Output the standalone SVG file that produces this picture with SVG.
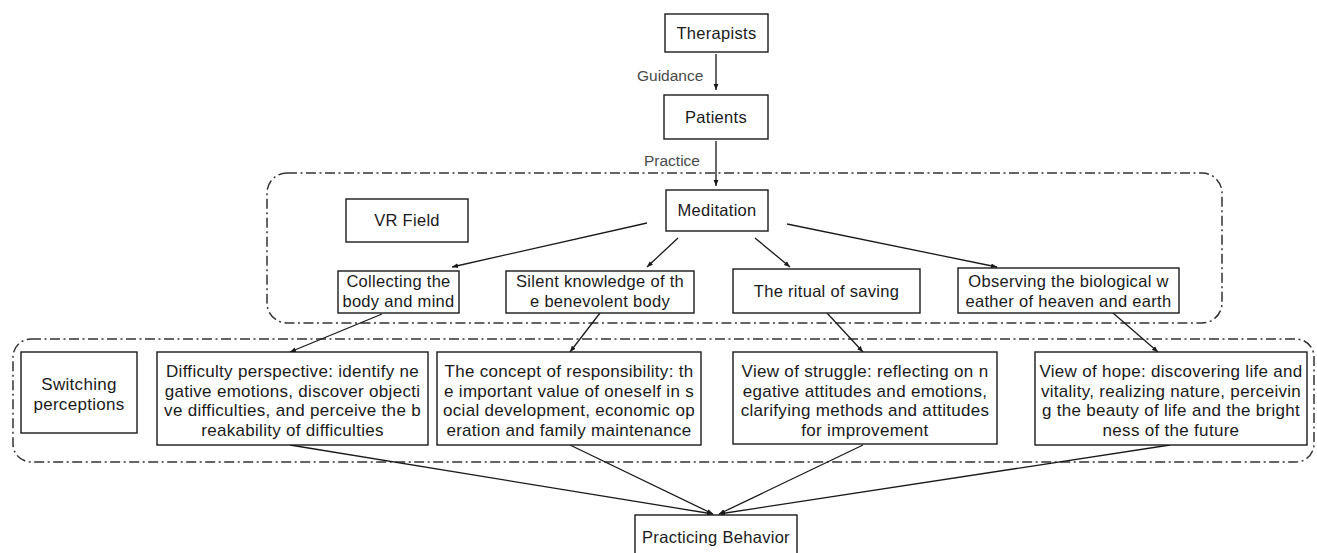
<svg xmlns="http://www.w3.org/2000/svg" width="1317" height="553" viewBox="0 0 1317 553">
<style>
.box{fill:#fff;stroke:#1a1a1a;stroke-width:1.4}
.grp{fill:none;stroke:#333;stroke-width:1.5;stroke-dasharray:10 3.5 2 3.5}
.t{font-family:"Liberation Sans",Arial,sans-serif;font-size:16.5px;letter-spacing:0.3px;fill:#1a1a1a;text-anchor:middle}
.m{font-size:17px}
.lbl{font-family:"Liberation Sans",Arial,sans-serif;font-size:15.5px;fill:#4a4a4a}
.c{stroke:#1a1a1a;stroke-width:1.3;fill:none;marker-end:url(#ah)}
</style>
<defs>
<marker id="ah" viewBox="0 0 10 10" refX="10" refY="5" markerWidth="6" markerHeight="6" orient="auto" markerUnits="userSpaceOnUse">
<path d="M0,1 L10,5 L0,9 z" fill="#1a1a1a"/>
</marker>
</defs>
<rect width="1317" height="553" fill="#fff"/>
<g id="groups">
<rect class="grp" x="267" y="173" width="955" height="150" rx="20"/>
<rect class="grp" x="13" y="339" width="1301" height="123" rx="18"/>
</g>
<g id="connectors">
<line class="c" x1="716" y1="54" x2="716" y2="90"/>
<line class="c" x1="716" y1="141" x2="716" y2="186"/>
<line class="c" x1="647" y1="223" x2="452" y2="267"/>
<line class="c" x1="678" y1="238" x2="647" y2="267"/>
<line class="c" x1="755" y1="238" x2="790" y2="267"/>
<line class="c" x1="787" y1="224" x2="997" y2="267"/>
<line class="c" x1="382" y1="314" x2="290" y2="352"/>
<line class="c" x1="600" y1="313" x2="570" y2="352"/>
<line class="c" x1="827" y1="313" x2="863" y2="352"/>
<line class="c" x1="1113" y1="313" x2="1158" y2="352"/>
<line class="c" x1="290" y1="445" x2="713" y2="514"/>
<line class="c" x1="570" y1="445" x2="713" y2="514"/>
<line class="c" x1="863" y1="445" x2="719" y2="514"/>
<line class="c" x1="1170" y1="445" x2="719" y2="514"/>
<text class="lbl" x="637" y="81">Guidance</text>
<text class="lbl" x="644" y="166">Practice</text>
</g>
<g id="therapists"><rect class="box" x="665" y="14" width="103" height="38"/><text class="t" x="716.5" y="39">Therapists</text></g>
<g id="patients"><rect class="box" x="664" y="95" width="104" height="44"/><text class="t" x="716" y="123">Patients</text></g>
<g id="meditation"><rect class="box" x="666" y="190" width="102" height="41"/><text class="t" x="717" y="216">Meditation</text></g>
<g id="vrfield"><rect class="box" x="346" y="199" width="122" height="43"/><text class="t" x="407" y="226">VR Field</text></g>
<g id="collecting"><rect class="box" x="338" y="271" width="121" height="42"/><text class="t" x="398.5" y="287">Collecting the</text><text class="t" x="398.5" y="307">body and mind</text></g>
<g id="silent"><rect class="box" x="506" y="271" width="188" height="42"/><text class="t" x="600" y="287">Silent knowledge of th</text><text class="t" x="600" y="307">e benevolent body</text></g>
<g id="ritual"><rect class="box" x="733" y="269" width="187" height="44"/><text class="t" x="826.5" y="297">The ritual of saving</text></g>
<g id="observing"><rect class="box" x="958" y="268" width="221" height="45"/><text class="t" x="1068.5" y="287">Observing the biological w</text><text class="t" x="1068.5" y="307">eather of heaven and earth</text></g>
<g id="switching"><rect class="box" x="21" y="352" width="116" height="81"/><text class="t m" x="79" y="390">Switching</text><text class="t m" x="79" y="409.5">perceptions</text></g>
<g id="difficulty"><rect class="box" x="157" y="352" width="271" height="93"/>
<text class="t m" x="292.5" y="377">Difficulty perspective: identify ne</text>
<text class="t m" x="292.5" y="396.5">gative emotions, discover objecti</text>
<text class="t m" x="292.5" y="416">ve difficulties, and perceive the b</text>
<text class="t m" x="292.5" y="435.5">reakability of difficulties</text></g>
<g id="responsibility"><rect class="box" x="437" y="352" width="264" height="93"/>
<text class="t m" x="569" y="377">The concept of responsibility: th</text>
<text class="t m" x="569" y="396.5">e important value of oneself in s</text>
<text class="t m" x="569" y="416">ocial development, economic op</text>
<text class="t m" x="569" y="435.5">eration and family maintenance</text></g>
<g id="struggle"><rect class="box" x="733" y="352" width="264" height="92"/>
<text class="t m" x="865" y="377">View of struggle: reflecting on n</text>
<text class="t m" x="865" y="396.5">egative attitudes and emotions,</text>
<text class="t m" x="865" y="416">clarifying methods and attitudes</text>
<text class="t m" x="865" y="435.5">for improvement</text></g>
<g id="hope"><rect class="box" x="1035" y="352" width="272" height="93"/>
<text class="t m" x="1171" y="377">View of hope: discovering life and</text>
<text class="t m" x="1171" y="396.5">vitality, realizing nature, perceivin</text>
<text class="t m" x="1171" y="416">g the beauty of life and the bright</text>
<text class="t m" x="1171" y="435.5">ness of the future</text></g>
<g id="practicing"><rect class="box" x="635" y="515" width="162" height="40"/><text class="t" x="716" y="543">Practicing Behavior</text></g>
</svg>
